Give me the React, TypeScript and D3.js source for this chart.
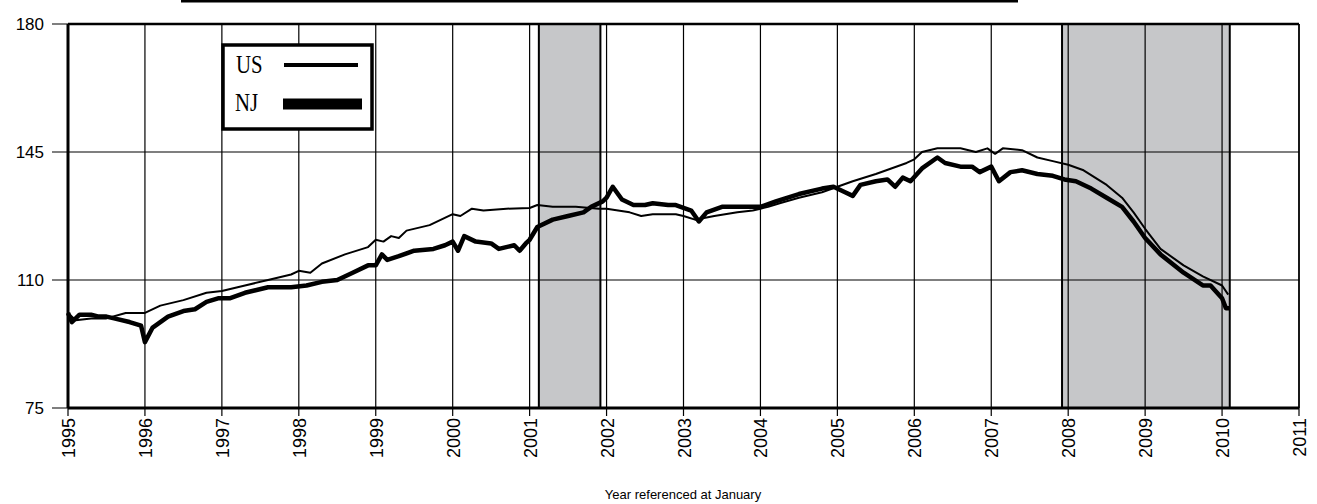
import React from "react";
import * as d3 from "d3";

const years = d3.range(1995, 2012);
const yTicks = [75, 110, 145, 180];
const recessions = [[2001.12, 2001.92], [2007.92, 2010.1]];

const usT = [1995.0,1995.1,1995.3,1995.5,1995.75,1996.0,1996.2,1996.5,1996.8,1997.0,1997.3,1997.6,1997.9,1998.0,1998.15,1998.3,1998.6,1998.9,1999.0,1999.1,1999.2,1999.3,1999.4,1999.7,2000.0,2000.1,2000.25,2000.4,2000.7,2001.0,2001.1,2001.3,2001.6,2001.9,2002.0,2002.3,2002.45,2002.6,2002.9,2003.0,2003.15,2003.4,2003.7,2003.9,2004.0,2004.1,2004.25,2004.5,2004.8,2005.0,2005.2,2005.5,2005.7,2005.9,2006.0,2006.1,2006.3,2006.6,2006.8,2006.95,2007.05,2007.15,2007.4,2007.6,2007.8,2008.0,2008.2,2008.5,2008.7,2008.85,2009.0,2009.2,2009.5,2009.75,2010.0,2010.08];
const usV = [101,99,99.5,99.5,101,101,103,104.5,106.5,107,108.5,110,111.5,112.5,112,114.5,117,119,121,120.5,122,121.5,123.5,125,128,127.5,129.5,129,129.5,129.7,130.5,130,130,129.5,129.5,128.5,127.5,128,128,127.5,126.5,127.5,128.5,129,129.5,130,131,132.5,134,135.5,137,139,140.5,142,143,145,146,146,145,146,144.5,146,145.5,143.5,142.5,141.5,140,136,132.5,128.5,124,118.5,114,111,108.5,106];
const njT = [1995.0,1995.05,1995.15,1995.3,1995.4,1995.5,1995.6,1995.8,1995.95,1996.0,1996.1,1996.3,1996.5,1996.65,1996.8,1996.95,1997.1,1997.3,1997.6,1997.9,1998.1,1998.3,1998.5,1998.7,1998.9,1999.0,1999.08,1999.15,1999.3,1999.5,1999.75,1999.9,2000.0,2000.07,2000.15,2000.3,2000.5,2000.6,2000.8,2000.87,2000.95,2001.0,2001.1,2001.3,2001.5,2001.7,2001.8,2001.95,2002.0,2002.08,2002.2,2002.35,2002.5,2002.6,2002.8,2002.9,2003.1,2003.2,2003.3,2003.5,2003.8,2004.0,2004.2,2004.5,2004.8,2004.95,2005.1,2005.2,2005.3,2005.5,2005.65,2005.75,2005.85,2005.95,2006.1,2006.3,2006.4,2006.6,2006.75,2006.85,2007.0,2007.1,2007.25,2007.4,2007.6,2007.8,2007.95,2008.1,2008.3,2008.5,2008.7,2008.85,2009.0,2009.2,2009.5,2009.75,2009.85,2010.0,2010.05,2010.1];
const njV = [101,98.5,100.5,100.5,100,100,99.5,98.5,97.5,93,97,100,101.5,102,104,105,105,106.5,108,108,108.5,109.5,110,112,114,114,117,115.5,116.5,118,118.5,119.5,120.5,118,122,120.5,120,118.5,119.5,118,120,121,124.5,126.5,127.5,128.5,130,131.5,132.5,135.5,132,130.5,130.5,131,130.5,130.5,129,126,128.5,130,130,130,131.5,133.5,135,135.5,134,133,136,137,137.5,135.5,138,137,140.5,143.5,142,141,141,139.5,141,137,139.5,140,139,138.5,137.5,137,135,132.5,130,126,121.5,117,112,108.5,108.5,105,102.3,102.3];

export default function App() {
  const L = 68, R = 1299, T = 24, B = 408;
  const x = d3.scaleLinear().domain([1995, 2011]).range([L, R]);
  const y = d3.scaleLinear().domain([75, 180]).range([B, T]);
  const line = d3.line<[number, number]>().x(d => x(d[0])).y(d => y(d[1]));
  const us = usT.map((t, i) => [t, usV[i]] as [number, number]);
  const nj = njT.map((t, i) => [t, njV[i]] as [number, number]);
  const font = "Liberation Sans, Arial, sans-serif";
  const serif = "Liberation Serif, serif";
  return (
    <svg width={1317} height={504} style={{ position: "absolute", left: 0, top: 0 }}>
      <rect width={1317} height={504} fill="#fff" />
      <line x1={181} x2={1018} y1={1} y2={1} stroke="#000" strokeWidth={3} />
      {recessions.map((r, i) => (
        <rect key={i} x={x(r[0])} y={T} width={x(r[1]) - x(r[0])} height={B - T} fill="#c6c7c9" stroke="#000" strokeWidth={2} />
      ))}
      {years.map(t => (
        <line key={t} x1={x(t)} x2={x(t)} y1={T} y2={B + 8} stroke="#000" strokeWidth={1.2} />
      ))}
      {yTicks.map(v => (
        <g key={v}>
          <line x1={L - 16} x2={R} y1={y(v)} y2={y(v)} stroke="#000" strokeWidth={1.2} />
          <text x={L - 24} y={y(v) + 6} textAnchor="end" fontFamily={font} fontSize={17}>{v}</text>
        </g>
      ))}
      <line x1={L} x2={R} y1={T} y2={T} stroke="#000" strokeWidth={2.5} />
      <line x1={L} x2={R} y1={B} y2={B} stroke="#000" strokeWidth={3} />
      <line x1={L} x2={L} y1={T} y2={B} stroke="#000" strokeWidth={3} />
      <line x1={R} x2={R} y1={T} y2={B} stroke="#000" strokeWidth={1.5} />
      <path d={line(us) || ""} fill="none" stroke="#000" strokeWidth={2} strokeLinejoin="round" />
      <path d={line(nj) || ""} fill="none" stroke="#000" strokeWidth={4.5} strokeLinejoin="round" />
      {years.map(t => (
        <text key={t} transform={`translate(${x(t) + 7},${B + 10}) rotate(-90)`} textAnchor="end" fontFamily={font} fontSize={18}>{t}</text>
      ))}
      <text x={683} y={499} textAnchor="middle" fontFamily={font} fontSize={13}>Year referenced at January</text>
      <rect x={223} y={45} width={149} height={84} fill="#fff" stroke="#000" strokeWidth={3.5} />
      <text x={236} y={73} fontFamily={serif} fontSize={26} transform="translate(236,73) scale(0.8,1) translate(-236,-73)">US</text>
      <line x1={284} x2={358} y1={65} y2={65} stroke="#000" strokeWidth={4} />
      <text x={235} y={111} fontFamily={serif} fontSize={26} transform="translate(235,111) scale(0.8,1) translate(-235,-111)">NJ</text>
      <line x1={283} x2={362} y1={104} y2={104} stroke="#000" strokeWidth={11} />
    </svg>
  );
}
